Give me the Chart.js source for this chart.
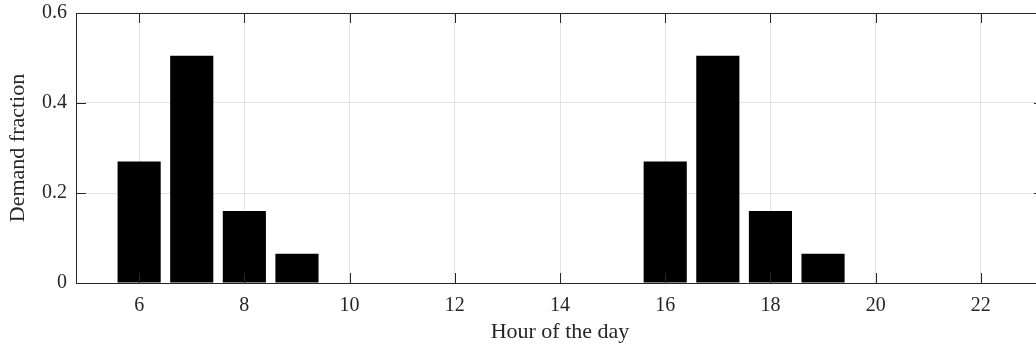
<!DOCTYPE html>
<html lang="en">
  <head>
    <meta charset="UTF-8" />
    <title>Demand fraction by hour</title>
    <script src="https://cdn.jsdelivr.net/npm/chart.js"></script>
    <style>
      html, body { margin: 0; padding: 0; background: #fff; overflow: hidden; }
      .wrap { width: 1036px; height: 348px; overflow: hidden; }
    </style>
  </head>

  <body>
    <div class="wrap">
      <canvas id="demandChart" width="1046" height="348"></canvas>
    </div>

    <script>
      // hourly demand profile (morning and evening peak)
      const hours = [6, 7, 8, 9, 10, 11, 12, 13, 14, 15, 16, 17, 18, 19, 20, 21, 22];
      const demand = [0.27, 0.505, 0.16, 0.065, 0, 0, 0, 0, 0, 0, 0.27, 0.505, 0.16, 0.065, 0, 0, 0];

      const xTicks = [6, 8, 10, 12, 14, 16, 18, 20, 22];
      const yTicks = [0, 0.2, 0.4, 0.6];

      const ink = '#262626';
      const gridColor = '#e3e3e3';
      const fontFamily = '"Liberation Serif", "Times New Roman", serif';

      // ticks pointing inward on all four sides, plus the top/right frame
      const boxTicks = {
        id: 'boxTicks',
        afterDatasetsDraw(chart) {
          const ctx = chart.ctx;
          const a = chart.chartArea;
          const xs = chart.scales.x;
          const ys = chart.scales.y;
          const len = 10;
          ctx.save();
          ctx.strokeStyle = ink;
          ctx.lineWidth = 1;
          ctx.beginPath();
          xTicks.forEach(v => {
            const px = Math.round(xs.getPixelForValue(v)) + 0.5;
            ctx.moveTo(px, a.bottom);
            ctx.lineTo(px, a.bottom - len);
            ctx.moveTo(px, a.top);
            ctx.lineTo(px, a.top + len);
          });
          yTicks.forEach(v => {
            const py = Math.round(ys.getPixelForValue(v)) + 0.5;
            ctx.moveTo(a.left, py);
            ctx.lineTo(a.left + len, py);
            ctx.moveTo(a.right, py);
            ctx.lineTo(a.right - len, py);
          });
          ctx.stroke();
          ctx.beginPath();
          ctx.moveTo(a.left + 0.5, a.bottom + 0.5);
          ctx.lineTo(a.left + 0.5, a.top + 0.5);
          ctx.lineTo(a.right, a.top + 0.5);
          ctx.lineTo(a.right, a.bottom + 0.5);
          ctx.lineTo(a.left, a.bottom + 0.5);
          ctx.stroke();
          ctx.restore();
        }
      };

      const ctxDemand = document.getElementById('demandChart').getContext('2d');
      const demandChart = new Chart(ctxDemand, {
        type: 'bar',
        data: {
          datasets: [{
            label: 'Demand fraction',
            data: hours.map((h, i) => ({ x: h, y: demand[i] })),
            backgroundColor: '#000000',
            borderColor: '#000000',
            borderWidth: 0,
            barPercentage: 0.82,
            categoryPercentage: 1.0
          }]
        },
        options: {
          responsive: false,
          animation: false,
          events: [],
          layout: { padding: { top: 13, right: 2, left: 0, bottom: 0 } },
          plugins: {
            legend: { display: false },
            tooltip: { enabled: false }
          },
          scales: {
            x: {
              type: 'linear',
              offset: false,
              min: 4.8,
              max: 23.2,
              afterBuildTicks: s => { s.ticks = xTicks.map(v => ({ value: v })); },
              afterFit: s => { s.height = 65; s.paddingLeft = 0; s.paddingRight = 0; },
              grid: { color: gridColor, drawTicks: false, offset: false },
              border: { color: ink },
              ticks: {
                padding: 11,
                color: ink,
                font: { family: fontFamily, size: 20 },
                maxRotation: 0
              },
              title: {
                display: true,
                text: 'Hour of the day',
                color: ink,
                font: { family: fontFamily, size: 22 },
                padding: { top: 0, bottom: 3 }
              }
            },
            y: {
              min: 0,
              max: 0.6,
              afterBuildTicks: s => { s.ticks = yTicks.map(v => ({ value: v })); },
              afterFit: s => { s.width = 76; s.paddingTop = 0; s.paddingBottom = 0; },
              grid: { color: gridColor, drawTicks: false },
              border: { color: ink },
              ticks: {
                padding: 9,
                color: ink,
                font: { family: fontFamily, size: 20 },
                callback: v => (v === 0 ? '0' : v.toFixed(1))
              },
              title: {
                display: true,
                text: 'Demand fraction',
                color: ink,
                font: { family: fontFamily, size: 22 },
                padding: { top: 5, bottom: 0 }
              }
            }
          }
        },
        plugins: [boxTicks]
      });
    </script>
  </body>
</html>
